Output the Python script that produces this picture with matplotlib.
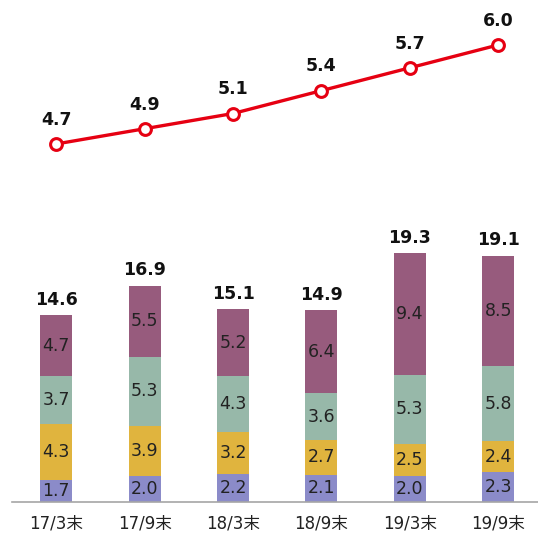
import numpy as np
import matplotlib.pyplot as plt

# Period labels and stacked segment values (bottom to top)
periods = ['17/3末', '17/9末', '18/3末', '18/9末', '19/3末', '19/9末']
seg_1 = [1.7, 2.0, 2.2, 2.1, 2.0, 2.3]
seg_2 = [4.3, 3.9, 3.2, 2.7, 2.5, 2.4]
seg_3 = [3.7, 5.3, 4.3, 3.6, 5.3, 5.8]
seg_4 = [4.7, 5.5, 5.2, 6.4, 9.4, 8.5]
totals = [14.6, 16.9, 15.1, 14.9, 19.3, 19.1]
line_vals = [4.7, 4.9, 5.1, 5.4, 5.7, 6.0]

seg_colors = ['#8B8BC9', '#E0B43E', '#97B8A9', '#975B7D']

W, H = 538, 535
fig = plt.figure(figsize=(W / 100, H / 100), dpi=100)
ax = fig.add_axes([12 / W, 33 / H, 526 / W, 502 / H])

x = np.arange(len(periods))
bottom = np.zeros(len(periods))
for vals, col in zip([seg_1, seg_2, seg_3, seg_4], seg_colors):
    vals = np.array(vals)
    ax.bar(x, vals, width=0.36, bottom=bottom, color=col, zorder=2)
    for xi, b, v in zip(x, bottom, vals):
        ax.text(xi, b + v / 2, f'{v:.1f}', ha='center', va='center',
                fontsize=12.5, color='#222222', family='DejaVu Sans')
    bottom += vals

for xi, top, t in zip(x, bottom, totals):
    ax.text(xi, top + 0.5, f'{t:.1f}', ha='center', va='bottom',
            fontsize=12.5, fontweight='bold', color='#111111')

ax.set_xlim(-0.5, 5.45)
ax.set_ylim(0, 38.76)
for s in ['top', 'right', 'left']:
    ax.spines[s].set_visible(False)
ax.spines['bottom'].set_color('#A6A6A6')
ax.spines['bottom'].set_linewidth(1.2)
ax.set_yticks([])
ax.set_xticks(x)
ax.set_xticklabels(periods, family=['DejaVu Sans', 'Noto Sans CJK JP'],
                   fontsize=12, color='#222222')
ax.tick_params(axis='x', length=0, pad=9)

# Line series on a secondary scale
ax2 = ax.twinx()
ax2.set_ylim(0, 6.59)
ax2.plot(x, line_vals, color='#E60012', linewidth=2.4, marker='o',
         markersize=8.5, markerfacecolor='white', markeredgewidth=2.2,
         markeredgecolor='#E60012', zorder=3)
for xi, v in zip(x, line_vals):
    ax2.text(xi, v + 0.2, f'{v:.1f}', ha='center', va='bottom',
             fontsize=12.5, fontweight='bold', color='#111111')
ax2.set_yticks([])
for s in ax2.spines.values():
    s.set_visible(False)

fig.savefig('out.png', dpi=100)
